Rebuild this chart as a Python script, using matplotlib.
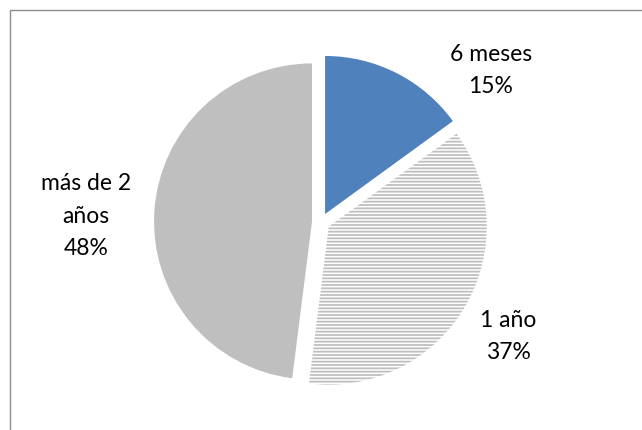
import matplotlib
matplotlib.use("Agg")
import matplotlib.pyplot as plt
from matplotlib.patches import Rectangle

plt.rcParams['font.family'] = ['Lato', 'DejaVu Sans']
plt.rcParams['hatch.linewidth'] = 1.3

# tiempo de uso
categorias = ['6 meses', '1 año', 'más de 2\naños']
porcentajes = [15, 37, 48]
colores = ['#4F81BD', 'white', '#BFBFBF']
tramas = [None, '-----', None]
# posicion de cada etiqueta (coordenadas de datos, radio = 1)
pos_etiquetas = [(1.076, 0.956), (1.184, -0.722), (-1.487, 0.038)]

fig = plt.figure(figsize=(6.42, 4.30), dpi=100)
ax = fig.add_axes([0, 0, 1, 1])

wedges, _ = ax.pie(porcentajes, startangle=90, counterclock=False,
                   colors=colores, explode=[0.057] * 3, radius=1,
                   wedgeprops=dict(linewidth=0))
for w, trama in zip(wedges, tramas):
    if trama:
        w.set_hatch(trama)
        w.set_edgecolor('#BFBFBF')
        w.set_linewidth(0)

for cat, pct, (x, y) in zip(categorias, porcentajes, pos_etiquetas):
    ax.text(x, y, f'{cat}\n{pct}%', ha='center', va='center',
            fontsize=16.5, color='black', linespacing=1.65)

ax.set_xlim(-2.032, 2.032)
ax.set_ylim(-1.316, 1.405)
ax.set_aspect('auto')
ax.axis('off')

# marco del grafico
fig.patches.append(Rectangle((10.5 / 642, -0.05), 1.2, (430 - 10) / 430 + 0.05,
                             transform=fig.transFigure, fill=False,
                             edgecolor='#8C8C8C', linewidth=1.0))

fig.savefig('out.png', dpi=100)
